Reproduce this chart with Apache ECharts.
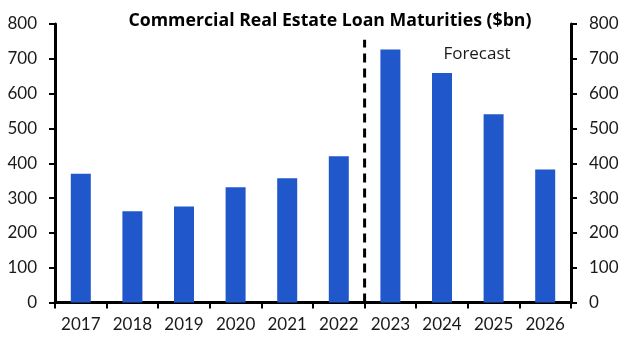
<!DOCTYPE html>
<html><head><meta charset="utf-8">
<script src="https://cdn.jsdelivr.net/npm/echarts@6/dist/echarts.min.js"></script>
<style>html,body{margin:0;padding:0;background:#fff}#c{width:630px;height:355px}</style>
</head><body><div id="c"></div>
<script>
const categories = ['2017','2018','2019','2020','2021','2022','2023','2024','2025','2026'];
const maturities = [370, 262, 276, 331, 357, 420, 727, 659, 541, 382];
const forecastLine = [[6, 0], [6, 755]];
const yTicks = [0, 100, 200, 300, 400, 500, 600, 700, 800];
const titleText = 'Commercial Real Estate Loan Maturities ($bn)';
const forecastText = 'Forecast';

const FONT = 'Lato';
const chart = echarts.init(document.getElementById('c'), null, {renderer: 'canvas'});
const yAxisCommon = {
  type: 'value', min: yTicks[0], max: yTicks[yTicks.length-1], interval: 100,
  axisLine: {show: true, lineStyle: {color: '#000', width: 3}},
  axisTick: {show: true, length: 6, lineStyle: {color: '#000', width: 2}},
  axisLabel: {color: '#1a1a1a', fontSize: 17, fontFamily: FONT, margin: 18},
  splitLine: {show: false}
};
chart.setOption({
  animation: false,
  title: [
    {text: titleText, left: 325, top: 7, textAlign: 'center',
     textStyle: {fontFamily: 'Open Sans', fontWeight: 'bold', fontSize: 17.7, color: '#000'}},
    {text: forecastText, left: 472, top: 41, textAlign: 'center',
     textStyle: {fontFamily: 'Open Sans', fontWeight: 'normal', fontSize: 17, color: '#1a1a1a'}}
  ],
  grid: {left: 55, right: 59, top: 24, bottom: 52.5},
  xAxis: [
    {type: 'category', data: categories, boundaryGap: true,
     axisLine: {show: true, lineStyle: {color: '#000', width: 3}},
     axisTick: {show: true, length: 6, alignWithLabel: false, lineStyle: {color: '#000', width: 2}},
     axisLabel: {color: '#1a1a1a', fontSize: 17, fontFamily: FONT, margin: 14}},
    {type: 'value', min: 0, max: categories.length, show: false}
  ],
  yAxis: [
    Object.assign({position: 'left'}, yAxisCommon),
    Object.assign({position: 'right'}, yAxisCommon)
  ],
  series: [
    {type: 'bar', data: maturities, barWidth: 20, itemStyle: {color: '#2058CC'}, xAxisIndex: 0, yAxisIndex: 0},
    {type: 'line', data: forecastLine, xAxisIndex: 1, yAxisIndex: 0, symbol: 'none',
     lineStyle: {color: '#000', width: 3, type: [9, 6]}}
  ]
});
</script></body></html>
